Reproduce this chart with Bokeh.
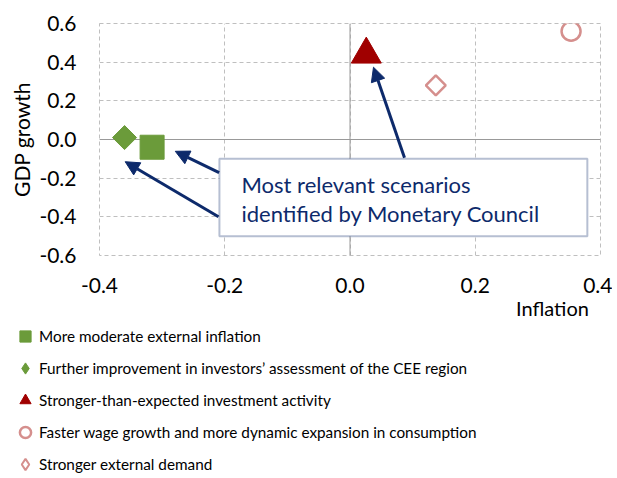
import math
from bokeh.plotting import figure
from bokeh.models import (Legend, LegendItem, FixedTicker, NumeralTickFormatter, Span,
                          BoxAnnotation, Arrow, NormalHead, Label, Range1d)
from bokeh.embed import file_html
from bokeh.resources import INLINE

# ---- data ----
scenarios = [
    "More moderate external inflation",
    "Further improvement in investors\u2019 assessment of the CEE region",
    "Stronger-than-expected investment activity",
    "Faster wage growth and more dynamic expansion in consumption",
    "Stronger external demand",
]
inflation = [-0.316, -0.36, 0.026, 0.353, 0.137]
gdp_growth = [-0.04, 0.01, 0.44, 0.56, 0.28]
x_ticks = [-0.4, -0.2, 0.0, 0.2, 0.4]
y_ticks = [-0.6, -0.4, -0.2, 0.0, 0.2, 0.4, 0.6]
note_lines = ["Most relevant scenarios", "identified by Monetary Council"]

GREEN = "#6b9b3a"
DARKRED = "#a00000"
PINK = "#d58f8d"
NAVY = "#0d2a6b"
FONT = "Lato"

# marker styles in the plot area
styles = [
    dict(marker="square", size=24, fill_color=GREEN, line_color=GREEN, angle=0),
    dict(marker="square", size=17, fill_color=GREEN, line_color=GREEN, angle=math.pi / 4),
    dict(marker="triangle", size=30, fill_color=DARKRED, line_color=DARKRED, angle=0),
    dict(marker="circle", size=19, fill_color=None, line_color=PINK, line_width=2.5, angle=0),
    dict(marker="square", size=14, fill_color=None, line_color=PINK, line_width=2.5, angle=math.pi / 4),
]
# marker shapes as shown in the legend
legend_styles = [
    dict(marker="square", fill_color=GREEN, line_color=GREEN),
    dict(marker="diamond", fill_color=GREEN, line_color=GREEN),
    dict(marker="triangle", fill_color=DARKRED, line_color=DARKRED),
    dict(marker="circle", fill_color=None, line_color=PINK, line_width=2.5),
    dict(marker="diamond", fill_color=None, line_color=PINK, line_width=2),
]

# ---------------- main chart ----------------
p = figure(width=612, height=322,
           x_range=Range1d(-0.4, 0.4), y_range=Range1d(-0.6, 0.6),
           output_backend="svg", toolbar_location=None,
           min_border_left=99, min_border_right=12, min_border_top=23, min_border_bottom=66)
p.outline_line_color = "#bfbfbf"
p.outline_line_dash = "4 3"
p.outline_line_width = 1
p.background_fill_color = "white"

for ax in (p.xaxis[0], p.yaxis[0]):
    ax.axis_line_color = None
    ax.major_tick_line_color = None
    ax.minor_tick_line_color = None
    ax.major_tick_out = 0
    ax.major_tick_in = 0
    ax.major_label_text_font = FONT
    ax.major_label_text_font_size = "21px"
    ax.major_label_text_color = "#000000"
    ax.formatter = NumeralTickFormatter(format="0.0")
    ax.axis_label_text_font = FONT
    ax.axis_label_text_font_style = "normal"
    ax.axis_label_text_color = "#000000"

p.xaxis[0].ticker = FixedTicker(ticks=x_ticks)
p.yaxis[0].ticker = FixedTicker(ticks=y_ticks)
p.xgrid[0].ticker = FixedTicker(ticks=x_ticks)
p.ygrid[0].ticker = FixedTicker(ticks=y_ticks)
p.xaxis[0].major_label_standoff = 22
p.yaxis[0].major_label_standoff = 23
p.yaxis[0].axis_label = "GDP growth"
p.yaxis[0].axis_label_text_font_size = "21px"
p.yaxis[0].axis_label_standoff = 2
# centred label, pushed towards the right end of the axis by leading em spaces
p.xaxis[0].axis_label = "\u2003" * 27 + "Inflation"
p.xaxis[0].axis_label_text_font_size = "20px"
p.xaxis[0].axis_label_standoff = 0

for g in (p.xgrid[0], p.ygrid[0]):
    g.grid_line_color = "#bfbfbf"
    g.grid_line_dash = "4 3"
    g.grid_line_width = 1

for dim in ("width", "height"):
    p.add_layout(Span(location=0, dimension=dim, line_color="#999999", line_width=1, level="underlay"))

for i, st in enumerate(styles):
    p.scatter(x=[inflation[i]], y=[gdp_growth[i]], **st)

# annotation box with arrows
p.add_layout(BoxAnnotation(left=-0.2085, right=0.379, top=-0.099, bottom=-0.50,
                           fill_color="white", fill_alpha=1, line_color=NAVY, line_width=2))
arrows = [((-0.209, -0.171), (-0.279, -0.061)),
          ((-0.210, -0.400), (-0.359, -0.115)),
          ((0.087, -0.094), (0.0375, 0.374))]
for (xs, ys), (xe, ye) in arrows:
    p.add_layout(Arrow(x_start=xs, y_start=ys, x_end=xe, y_end=ye, line_color=NAVY, line_width=3,
                       end=NormalHead(size=14, fill_color=NAVY, line_color=NAVY, line_width=1)))
for txt, yy in zip(note_lines, [-0.233, -0.382]):
    p.add_layout(Label(x=-0.1733, y=yy, text=txt, text_font=FONT, text_font_size="22px",
                       text_color=NAVY, text_baseline="middle", text_align="left"))

# ---------------- legend strip (separate root, no frame alignment) ----------------
# its ranges lie far from the data, so its renderers only feed the legend glyphs
q = figure(width=612, height=156, x_range=Range1d(10, 11), y_range=Range1d(10, 11),
           x_axis_type=None, y_axis_type=None, output_backend="svg", toolbar_location=None,
           min_border_left=0, min_border_right=0, min_border_top=0, min_border_bottom=0)
q.outline_line_color = None
q.grid.visible = False
items = []
for i, st in enumerate(legend_styles):
    r = q.scatter(x=[inflation[i]], y=[gdp_growth[i]], **st)
    items.append(LegendItem(label=scenarios[i], renderers=[r]))
legend = Legend(items=items, location=(11, 0), orientation="vertical",
                label_text_font=FONT, label_text_font_size="15.3px", label_text_color="#000000",
                glyph_width=28, glyph_height=28, label_height=28, spacing=4,
                padding=0, margin=0, border_line_color=None, background_fill_alpha=0,
                label_standoff=0)
q.add_layout(legend, "center")

open("out.html", "w").write(file_html([p, q], INLINE))
